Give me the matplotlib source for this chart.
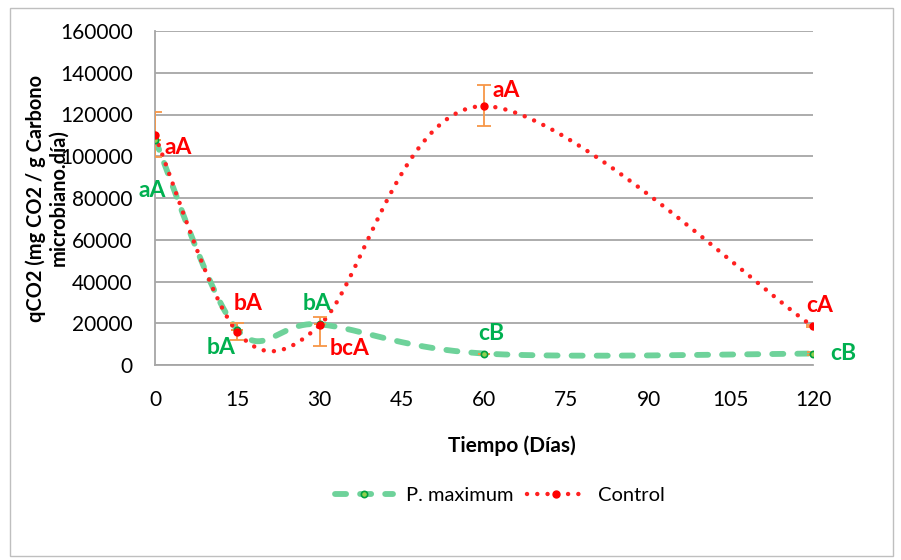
import numpy as np
import matplotlib
matplotlib.use("Agg")
import matplotlib.pyplot as plt
from matplotlib.patches import Rectangle

plt.rcParams['font.family'] = ['Lato', 'DejaVu Sans']

days = [0, 15, 30, 60, 120]
pmax = [108000, 17000, 19500, 5500, 5500]
control = [110000, 15800, 19000, 124000, 18500]
ctrl_err_lo = [10500, 3800, 10000, 9500, 500]
ctrl_err_hi = [11000, 4500, 3800, 10000, 500]
pmax_err = [0, 0, 0, 0, 600]

labels_ctrl = ["aA", "bA", "bcA", "aA", "cA"]
labels_pmax = ["aA", "bA", "bA", "cB", "cB"]

xticks = [0, 15, 30, 45, 60, 75, 90, 105, 120]
yticks = [0, 20000, 40000, 60000, 80000, 100000, 120000, 140000, 160000]

W, H = 901, 560
fig = plt.figure(figsize=(W / 100, H / 100), dpi=100)
ax = fig.add_axes([155 / W, 1 - 365 / H, 658 / W, 334 / H])
ax.set_xlim(0, 120)
ax.set_ylim(0, 160000)


def excel_smooth(x, y, n=80):
    """Excel-style smoothed line: Bezier segments with limited tangents, in screen space."""
    pts = ax.transData.transform(np.column_stack([x, y]).astype(float))
    out = []
    m = len(pts)
    for i in range(m - 1):
        p0 = pts[i - 1] if i > 0 else pts[i]
        p1 = pts[i]
        p2 = pts[i + 1]
        p3 = pts[i + 2] if i + 2 < m else pts[i + 1]
        d12 = np.hypot(*(p2 - p1))
        d02 = np.hypot(*(p2 - p0))
        d13 = np.hypot(*(p3 - p1))
        f1 = 1 / 6 if d02 / 6 < d12 / 2 else (d12 / (2 * d02) if d02 > 0 else 0)
        f2 = 1 / 6 if d13 / 6 < d12 / 2 else (d12 / (2 * d13) if d13 > 0 else 0)
        c1 = p1 + (p2 - p0) * f1
        c2 = p2 - (p3 - p1) * f2
        t = np.linspace(0, 1, n)[:, None]
        seg = ((1 - t) ** 3) * p1 + 3 * ((1 - t) ** 2) * t * c1 + 3 * (1 - t) * t ** 2 * c2 + t ** 3 * p2
        out.append(seg if i == 0 else seg[1:])
    s = ax.transData.inverted().transform(np.vstack(out))
    return s[:, 0], s[:, 1]


green_line = '#6ED29A'
red_line = '#FF2020'
green_txt = '#00B050'
red_txt = '#FF0000'
orange = '#F79646'
g_style = dict(color=green_line, lw=4.2, linestyle=(0, (1.9, 2.4)), dash_capstyle='round')
r_style = dict(color=red_line, lw=3.2, linestyle=(0, (0.01, 2.3)), dash_capstyle='round')

gx, gy = excel_smooth(days, pmax)
rx, ry = excel_smooth(days, control)
ax.plot(gx, gy, zorder=3, **g_style)
ax.plot(rx, ry, zorder=4, **r_style)

ax.errorbar(days, control, yerr=[ctrl_err_lo, ctrl_err_hi], fmt='none', ecolor=orange, elinewidth=1.3, capsize=5, capthick=1.3, zorder=5)
ax.errorbar(days, pmax, yerr=pmax_err, fmt='none', ecolor=orange, elinewidth=1.3, capsize=4, capthick=1.3, zorder=5)
ax.plot(days, pmax, 'o', ms=4.5, mfc='#92D050', mec='#00A040', mew=1.2, zorder=6)
ax.plot(days, control, 'o', ms=5, mfc=red_txt, mec=red_txt, zorder=7)

# legend proxies
ax.plot([], [], marker='o', ms=4.5, mfc='#92D050', mec='#00A040', mew=1.2, label='P. maximum', **g_style)
ax.plot([], [], marker='o', ms=5, mfc=red_txt, mec=red_txt, label='Control', **r_style)

# letter labels
ctrl_pos = [(1.8, 104400), (14.4, 29700), (31.9, 8100), (61.5, 131700), (118.7, 28700)]
pmax_pos = [(-3.1, 83800), (9.5, 8600), (27.0, 29700), (58.9, 15300), (123.1, 5300)]
for (x, y), t in zip(ctrl_pos, labels_ctrl):
    ax.text(x, y, t, color=red_txt, fontsize=16.5, fontweight='bold', ha='left', va='center', zorder=8, clip_on=False)
for (x, y), t in zip(pmax_pos, labels_pmax):
    ax.text(x, y, t, color=green_txt, fontsize=16.5, fontweight='bold', ha='left', va='center', zorder=8, clip_on=False)

ax.set_xticks(xticks)
ax.set_yticks(yticks)
ax.set_xticklabels([str(v) for v in xticks], fontsize=15)
ax.set_yticklabels([str(v) for v in yticks], fontsize=15)
ax.tick_params(axis='y', length=0, pad=16, colors='#000000')
ax.tick_params(axis='x', length=0, pad=18, colors='#000000')
ax.grid(axis='y', color='#A6A6A6', lw=1.3, zorder=0)
for s in ['top', 'right']:
    ax.spines[s].set_visible(False)
for s in ['left', 'bottom']:
    ax.spines[s].set_color('#A6A6A6')
    ax.spines[s].set_linewidth(1.3)
ax.set_axisbelow(True)

fig.text(512 / W, 1 - 446 / H, 'Tiempo (Días)', fontsize=15, fontweight='bold', ha='center', va='center')
fig.text(47 / W, 1 - 198 / H, 'qCO2 (mg CO2 / g Carbono\nmicrobiano.día)', fontsize=14.4, fontweight='bold',
         rotation=90, ha='center', va='center', linespacing=1.1, multialignment='center')

fig.legend(loc='center', bbox_to_anchor=(500 / W, 1 - 495 / H), ncol=2, frameon=False,
           fontsize=14.5, handlelength=2.85, columnspacing=0.7, handletextpad=0.65)

fig.patches.append(Rectangle((10 / W, 4 / H), 883 / W, 548 / H, transform=fig.transFigure,
                             fill=False, edgecolor='#BFBFBF', lw=1.0))

fig.savefig('out.png', dpi=100)
